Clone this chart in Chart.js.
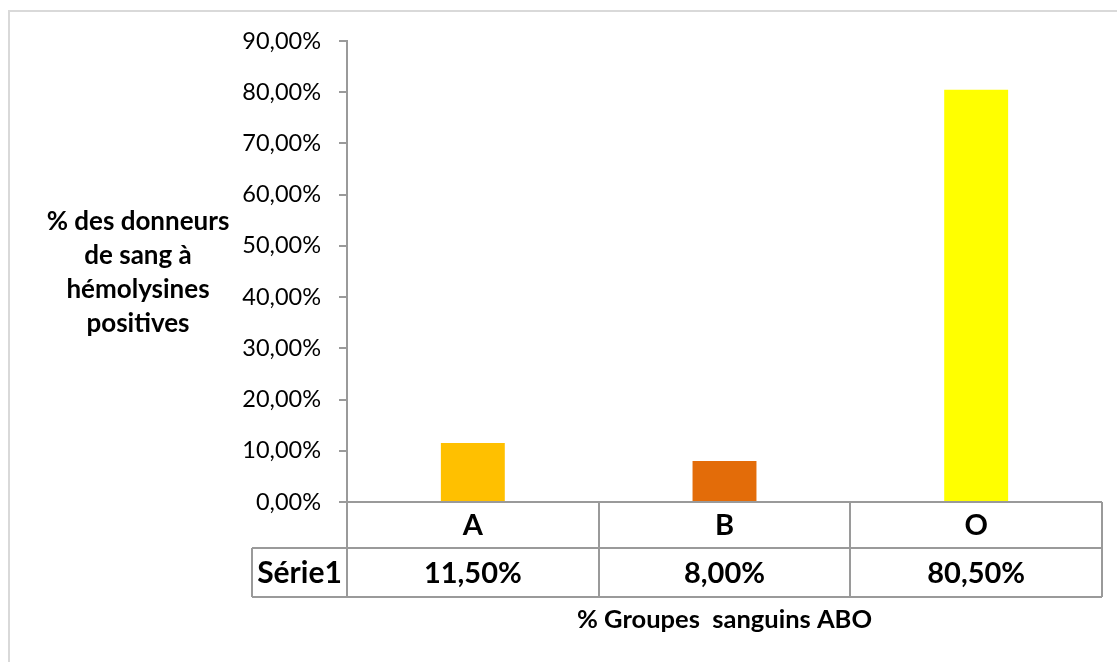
<!DOCTYPE html>
<html>
<head>
<meta charset="utf-8">
<script src="https://cdn.jsdelivr.net/npm/chart.js@4/dist/chart.umd.min.js"></script>
<style>
html,body{margin:0;padding:0;background:#fff;}
#c{display:block;}
</style>
</head>
<body>
<canvas id="c" width="1117" height="662"></canvas>
<script>
const categories = ['A', 'B', 'O'];
const seriesName = 'Série1';
const values = [11.5, 8.0, 80.5];
const barColors = ['#FFC000', '#E36C09', '#FFFF00'];
const yMin = 0, yMax = 90, yStep = 10;
const yTitleLines = ['% des donneurs', 'de sang à', 'hémolysines', 'positives'];
const xTitle = '% Groupes  sanguins ABO';

const FONT = 'Lato, "Open Sans", sans-serif';
const fmt = v => v.toFixed(2).replace('.', ',') + '%';
const LINE = '#9a9a9a';

const decor = {
  id: 'decor',
  beforeDraw(chart) {
    const ctx = chart.ctx;
    ctx.save();
    ctx.fillStyle = '#fff';
    ctx.fillRect(0, 0, chart.width, chart.height);
    ctx.strokeStyle = '#d9d9d9';
    ctx.lineWidth = 2;
    ctx.strokeRect(9, 11, chart.width + 20, chart.height + 20);
    ctx.restore();
  },
  afterDraw(chart) {
    const ctx = chart.ctx, a = chart.chartArea, xs = chart.scales.x;
    const n = categories.length, w = a.width / n;
    const top = a.bottom, r1 = top + 46, r2 = r1 + 49;
    const labLeft = a.left - 95;
    ctx.save();
    ctx.strokeStyle = LINE;
    ctx.lineWidth = 2;
    ctx.beginPath();
    ctx.moveTo(a.left - 8, top); ctx.lineTo(a.right, top);
    ctx.moveTo(labLeft, r1); ctx.lineTo(a.right, r1);
    ctx.moveTo(labLeft, r2); ctx.lineTo(a.right, r2);
    ctx.moveTo(labLeft, r1); ctx.lineTo(labLeft, r2);
    for (let i = 0; i <= n; i++) {
      const x = Math.round(xs.getPixelForValue(0) - w / 2 + i * w);
      ctx.moveTo(x, top); ctx.lineTo(x, r2);
    }
    ctx.stroke();
    ctx.fillStyle = '#000';
    ctx.textAlign = 'center';
    ctx.textBaseline = 'middle';
    ctx.font = 'bold 29px ' + FONT;
    categories.forEach((c, i) => {
      const x = xs.getPixelForValue(i);
      ctx.fillText(c, x, (top + r1) / 2 + 1);
      ctx.fillText(fmt(values[i]), x, (r1 + r2) / 2 + 1);
    });
    ctx.font = 'bold 30px ' + FONT;
    ctx.fillText(seriesName, (labLeft + a.left) / 2, (r1 + r2) / 2 + 1);
    ctx.font = 'bold 25.5px ' + FONT;
    ctx.fillText(xTitle, (a.left + a.right) / 2, 620);
    ctx.font = 'bold 26px ' + FONT;
    yTitleLines.forEach((t, i) => ctx.fillText(t, 138, 222 + i * 34));
    ctx.restore();
  }
};

new Chart(document.getElementById('c'), {
  type: 'bar',
  data: {
    labels: categories,
    datasets: [{
      label: seriesName,
      data: values,
      backgroundColor: barColors,
      borderWidth: 0,
      categoryPercentage: 1,
      barPercentage: 0.254
    }]
  },
  options: {
    responsive: false,
    animation: false,
    layout: { padding: { left: 0, right: 15, top: 41, bottom: 160 } },
    plugins: { legend: { display: false }, tooltip: { enabled: false } },
    scales: {
      x: { display: false },
      y: {
        min: yMin, max: yMax,
        afterFit: s => { s.width = 347; },
        ticks: {
          stepSize: yStep,
          callback: v => fmt(v),
          color: '#000',
          font: { family: FONT, size: 23.5 },
          padding: 18
        },
        grid: { drawOnChartArea: false, tickLength: 8, color: LINE, lineWidth: 2 },
        border: { color: LINE, width: 2 }
      }
    }
  },
  plugins: [decor]
});
</script>
</body>
</html>
